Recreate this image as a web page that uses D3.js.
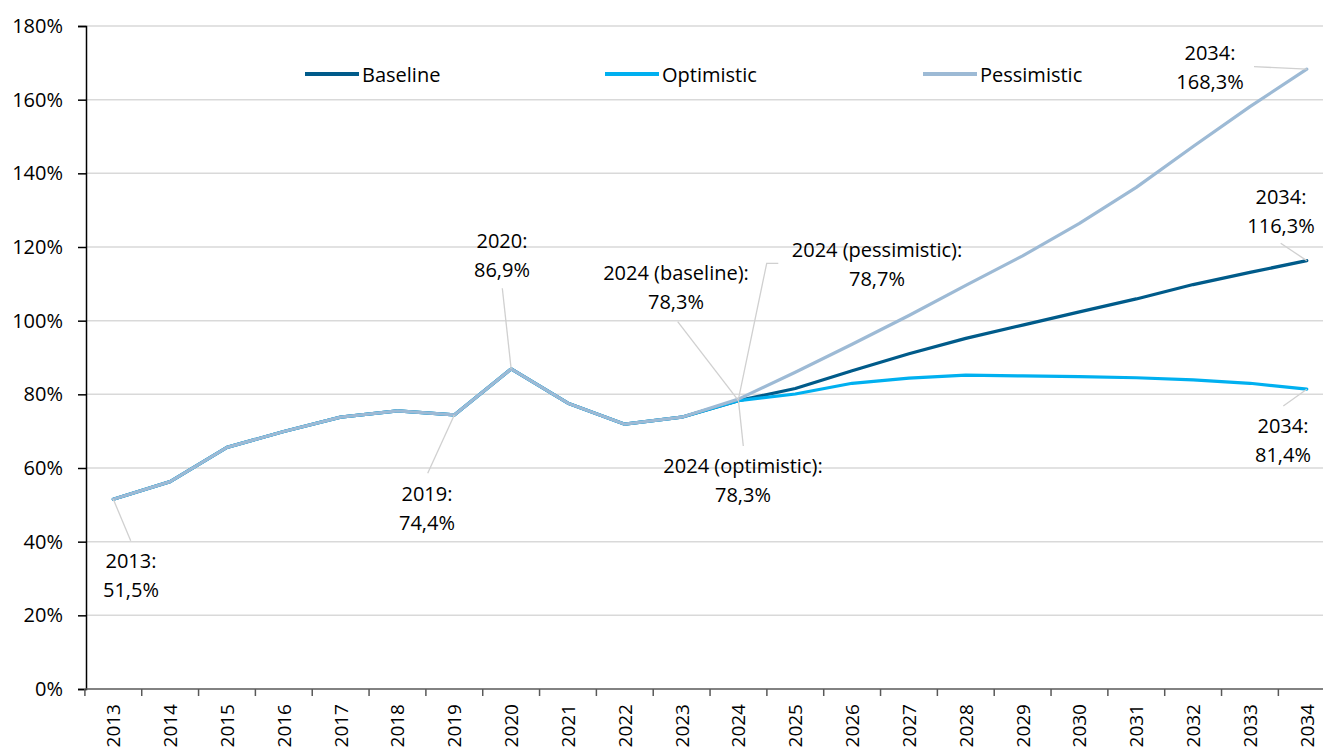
<!DOCTYPE html>
<html>
<head>
<meta charset="utf-8">
<script src="https://cdn.jsdelivr.net/npm/d3@7/dist/d3.min.js"></script>
<style>
  html, body { margin: 0; padding: 0; background: #fff; overflow: hidden; }
  svg { display: block; }
  text { font-family: "Open Sans", "Liberation Sans", sans-serif; fill: #000; }
</style>
</head>
<body>
<svg id="chart" width="1323" height="750"></svg>
<script>
// ---- data ----
const years = [2013,2014,2015,2016,2017,2018,2019,2020,2021,2022,2023,2024,2025,2026,2027,2028,2029,2030,2031,2032,2033,2034];
const baseline    = [51.5,56.3,65.6,69.9,73.8,75.5,74.4,86.9,77.6,71.9,73.8,78.3,81.6,86.4,91.0,95.2,98.8,102.4,105.9,109.8,113.1,116.3];
const optimistic  = [51.5,56.3,65.6,69.9,73.8,75.5,74.4,86.9,77.6,71.9,73.8,78.3,80.1,83.0,84.4,85.2,85.0,84.8,84.5,83.9,83.0,81.4];
const pessimistic = [51.5,56.3,65.6,69.9,73.8,75.5,74.4,86.9,77.6,71.9,73.8,78.7,86.0,93.6,101.4,109.6,117.6,126.4,136.2,147.3,158.1,168.3];
const seriesNames = ["Baseline","Optimistic","Pessimistic"];
const yTicks = [0,20,40,60,80,100,120,140,160,180];

// ---- layout ----
const svg = d3.select("#chart");
const W = 1323;
const x = d3.scaleBand().domain(years).range([84.9, 1335.2]).padding(0);
const y = d3.scaleLinear().domain([0,180]).range([689, 26]);
const cx = d => x(d) + x.bandwidth()/2;
const colors = {Baseline:"#005b8a", Optimistic:"#00b0f0", Pessimistic:"#9dbad5"};
const seriesData = {Baseline: baseline, Optimistic: optimistic, Pessimistic: pessimistic};
const fmt = v => d3.format(".1f")(v).replace(".", ",") + "%";

// gridlines
svg.append("g").selectAll("line").data(yTicks.filter(t => t > 0)).join("line")
  .attr("x1", 86).attr("x2", W).attr("y1", d => y(d)).attr("y2", d => y(d))
  .attr("stroke", "#d9d9d9").attr("stroke-width", 1.5);

// y axis
const yAxis = d3.axisLeft(y).tickValues(yTicks).tickFormat(d => d + "%").tickSize(8).tickPadding(15);
const gy = svg.append("g").attr("transform", "translate(86,0)").call(yAxis);
gy.select(".domain").attr("stroke", "#000").attr("stroke-width", 1.5);
gy.selectAll(".tick line").attr("stroke", "#000").attr("stroke-width", 1.5);
gy.selectAll(".tick text").attr("font-size", 20).attr("font-family", '"Open Sans", sans-serif').attr("fill", "#000");

// x axis (ticks at category boundaries)
const gx = svg.append("g");
gx.append("line").attr("x1", 86).attr("x2", W).attr("y1", y(0)).attr("y2", y(0))
  .attr("stroke", "#595959").attr("stroke-width", 1.5);
gx.selectAll("line.tk").data(years).join("line").attr("class", "tk")
  .attr("x1", d => x(d)).attr("x2", d => x(d)).attr("y1", y(0)).attr("y2", y(0) + 7)
  .attr("stroke", "#595959").attr("stroke-width", 1.5);
gx.selectAll("text").data(years).join("text")
  .attr("transform", d => `translate(${cx(d)},${y(0) + 15}) rotate(-90)`)
  .attr("text-anchor", "end").attr("dominant-baseline", "central")
  .attr("font-size", 19).text(d => d);

// lines
const line = d3.line().x((d, i) => cx(years[i])).y(d => y(d));
seriesNames.forEach(name => {
  svg.append("path").datum(seriesData[name]).attr("d", line)
    .attr("fill", "none").attr("stroke", colors[name]).attr("stroke-width", 3.2)
    .attr("stroke-linejoin", "round").attr("stroke-linecap", "round");
});

// legend
const legendX = [305, 605, 923];
seriesNames.forEach((name, i) => {
  const g = svg.append("g");
  g.append("line").attr("x1", legendX[i]).attr("x2", legendX[i] + 54).attr("y1", 74).attr("y2", 74)
    .attr("stroke", colors[name]).attr("stroke-width", 4);
  g.append("text").attr("x", legendX[i] + 57).attr("y", 74).attr("dominant-baseline", "central")
    .attr("font-size", 20).text(name);
});

// annotations
const annotations = [
  {s:"Baseline", yr:2013, pre:"2013:", tx:131, ty:568, lx:130.7, ly:540.7},
  {s:"Baseline", yr:2019, pre:"2019:", tx:427, ty:501, lx:427.7, ly:473.3},
  {s:"Baseline", yr:2020, pre:"2020:", tx:502, ty:248, lx:502.3, ly:288.3},
  {s:"Baseline", yr:2024, pre:"2024 (baseline):", tx:676, ty:280, lx:677.7, ly:321.7},
  {s:"Pessimistic", yr:2024, pre:"2024 (pessimistic):", tx:877, ty:257, lx:766.7, ly:263.3, ex:778.3},
  {s:"Optimistic", yr:2024, pre:"2024 (optimistic):", tx:743, ty:473, lx:743.3, ly:446},
  {s:"Pessimistic", yr:2034, pre:"2034:", tx:1210, ty:60, lx:1254, ly:66.7},
  {s:"Baseline", yr:2034, pre:"2034:", tx:1281, ty:204, lx:1280.7, ly:243.3},
  {s:"Optimistic", yr:2034, pre:"2034:", tx:1283, ty:433, lx:1283.3, ly:406}
];
const ag = svg.append("g");
annotations.forEach(a => {
  const v = seriesData[a.s][years.indexOf(a.yr)];
  const px = cx(a.yr), py = y(v);
  const pts = [[px, py], [a.lx, a.ly]];
  if (a.ex !== undefined) pts.push([a.ex, a.ly]);
  ag.append("path").attr("d", d3.line()(pts)).attr("fill", "none")
    .attr("stroke", "#d0d0d0").attr("stroke-width", 1.3);
  const t = ag.append("text").attr("text-anchor", "middle").attr("font-size", 20);
  t.append("tspan").attr("x", a.tx).attr("y", a.ty).text(a.pre);
  t.append("tspan").attr("x", a.tx).attr("y", a.ty + 29).text(fmt(v));
});
</script>
</body>
</html>
